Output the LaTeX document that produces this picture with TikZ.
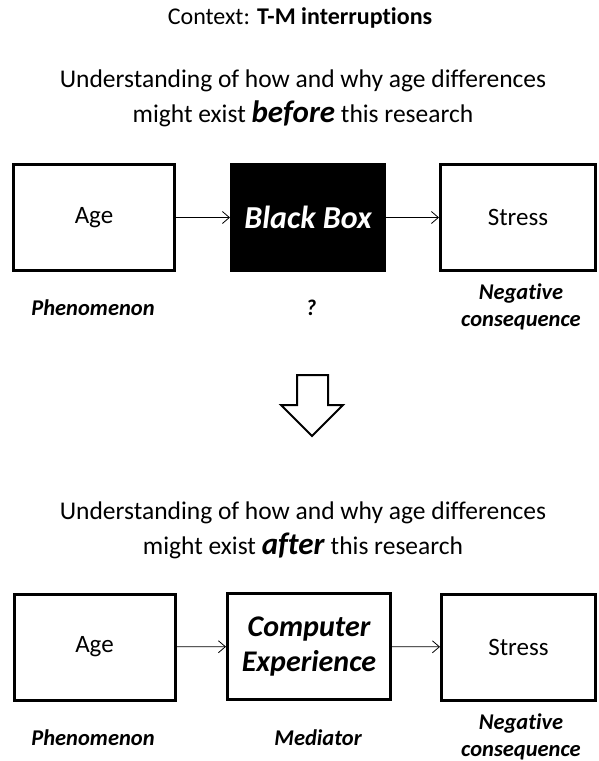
\documentclass[tikz,border=0pt]{standalone}
\usepackage{fontspec}
\setmainfont{Carlito}[Ligatures=NoCommon]
\usetikzlibrary{arrows.meta}

\tikzset{
  stage/.style={draw, line width=3pt, minimum width=161pt, minimum height=106pt, inner sep=0pt, font=\fontsize{25}{30}\selectfont},
  role/.style={inner sep=0pt, align=center, font=\fontsize{22.5}{27}\selectfont\bfseries\itshape},
  link/.style={line width=0.8pt, -{Straight Barb[length=7pt,width=12pt,line width=0.8pt]}},
  heading/.style={inner sep=0pt, align=center, font=\fontsize{25.5}{35}\selectfont}
}

\begin{document}
\begin{tikzpicture}[x=1pt,y=-1pt]
\useasboundingbox (0,0) rectangle (599,761);
% titles
\node[inner sep=0pt, font=\fontsize{24}{28}\selectfont] (ctx) at (300,18) {Context: \textbf{T-M interruptions}};
\node[heading] (before) at (303,98.5) {Understanding of how and why age differences\\might exist \textbf{\itshape\fontsize{31}{35}\selectfont before} this research};
% before this research
\node[stage] (age1) at (94,217.5) {Age};
\node[stage, minimum width=153pt, fill=black, text=white, font=\fontsize{32}{35}\selectfont\bfseries\itshape] (blackbox) at (308,217.5) {Black Box};
\node[stage, minimum width=155pt] (stress1) at (518,217.5) {Stress};
\draw[link] (age1) -- (blackbox);
\draw[link] (blackbox) -- (stress1);
\node[role] (phen1) at (93,308) {Phenomenon};
\node[role] (unknown) at (311,308) {?};
\node[role] (neg1) at (521,306.5) {Negative\\consequence};
% down arrow
\draw[line width=2pt, line join=miter] (297,375) -- (328,375) -- (328,405) -- (343,405) -- (312,436) -- (281,405) -- (297,405) -- cycle;
% after this research
\node[heading] (after) at (303,530) {Understanding of how and why age differences\\might exist \textbf{\itshape\fontsize{31}{35}\selectfont after} this research};
\node[stage] (age2) at (94.5,647) {Age};
\node[stage, minimum width=163pt, font=\fontsize{30}{35}\selectfont\bfseries\itshape, align=center] (mediator) at (309,646.5) {Computer\\Experience};
\node[stage, minimum width=154pt] (stress2) at (518.5,647) {Stress};
\draw[link] (age2) -- (mediator);
\draw[link] (mediator) -- (stress2);
\node[role] (phen2) at (93,738) {Phenomenon};
\node[role] (med) at (318,738) {Mediator};
\node[role] (neg2) at (521,736.5) {Negative\\consequence};
\end{tikzpicture}
\end{document}
